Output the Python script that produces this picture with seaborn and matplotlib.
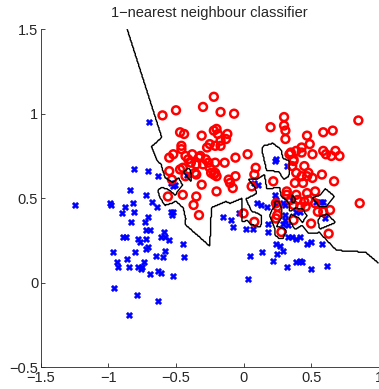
import numpy as np
import pandas as pd
import seaborn as sns
from matplotlib import pyplot as plt

# Clase 1 (circulos rojos)
x_rojo = [-0.22, -0.30, -0.17, -0.07, -0.50, -0.60, 0.30, 0.30, 0.20, 0.31,
          0.85, 0.59, 0.66, 0.47, 0.31, -0.47, -0.44, -0.31, -0.20, -0.22,
          -0.19, -0.12, -0.13, -0.17, -0.25, -0.21, -0.27, -0.17, -0.46, -0.46,
          0.49, 0.43, 0.39, 0.35, 0.68, 0.59, 0.61, 0.71, 0.65, 0.51,
          0.43, 0.34, 0.37, 0.03, -0.06, -0.38, -0.52, -0.55, -0.43, -0.41,
          -0.39, -0.32, -0.33, -0.35, -0.28, -0.26, -0.21, -0.14, -0.30, -0.25,
          0.37, 0.36, 0.39, 0.45, 0.48, -0.55, -0.47, -0.45, -0.43, -0.36,
          -0.35, -0.24, -0.22, -0.21, -0.20, -0.06, -0.11, -0.10, -0.08, 0.09,
          0.08, 0.22, 0.58, 0.51, 0.47, 0.43, 0.38, 0.44, -0.53, -0.31,
          -0.20, -0.45, -0.56, -0.35, -0.37, -0.33, 0.00, 0.08, 0.06, 0.32,
          0.32, 0.39, 0.35, 0.47, 0.53, 0.67, 0.40, 0.45, 0.48, 0.46,
          0.42, 0.37, 0.53, 0.55, 0.64, 0.59, 0.24, 0.25, 0.25, 0.24,
          0.37, 0.50, 0.28, 0.63, 0.86]
y_rojo = [1.10, 1.04, 1.01, 1.00, 1.02, 0.99, 0.98, 0.93, 0.92, 0.90,
          0.96, 0.89, 0.90, 0.87, 0.85, 0.89, 0.88, 0.87, 0.91, 0.90,
          0.88, 0.88, 0.85, 0.84, 0.82, 0.81, 0.80, 0.81, 0.81, 0.79,
          0.82, 0.80, 0.78, 0.77, 0.78, 0.78, 0.76, 0.75, 0.75, 0.76,
          0.77, 0.76, 0.73, 0.76, 0.74, 0.76, 0.76, 0.74, 0.75, 0.73,
          0.71, 0.75, 0.74, 0.70, 0.73, 0.71, 0.71, 0.71, 0.70, 0.68,
          0.72, 0.69, 0.65, 0.69, 0.65, 0.66, 0.67, 0.68, 0.63, 0.65,
          0.64, 0.65, 0.64, 0.65, 0.63, 0.63, 0.61, 0.59, 0.56, 0.68,
          0.64, 0.60, 0.64, 0.62, 0.63, 0.63, 0.59, 0.59, 0.61, 0.58,
          0.54, 0.52, 0.51, 0.51, 0.46, 0.40, 0.41, 0.36, 0.57, 0.54,
          0.52, 0.52, 0.49, 0.53, 0.54, 0.60, 0.49, 0.48, 0.49, 0.45,
          0.45, 0.46, 0.47, 0.42, 0.43, 0.42, 0.47, 0.45, 0.40, 0.38,
          0.37, 0.35, 0.30, 0.29, 0.47]

# Clase 0 (cruces azules)
x_azul = [-0.70, -1.25, -0.81, -0.71, -0.63, -0.84, -0.99, -0.98, -0.88, -0.82,
          -0.72, -0.68, -0.64, -0.90, -0.81, -0.83, -0.71, -0.73, -0.72, -0.69,
          -0.59, -0.61, -0.58, -0.55, -0.89, -0.87, -0.78, -0.77, -0.72, -0.71,
          -0.72, -0.97, -0.80, -0.65, -0.60, -0.86, -0.94, -0.93, -0.85, -0.78,
          -0.75, -0.74, -0.76, -0.63, -0.61, -0.69, -0.96, -0.79, -0.63, -0.85,
          -0.58, -0.52, -0.45, -0.44, -0.54, -0.51, -0.52, -0.42, -0.54, -0.52,
          -0.53,
          0.23, 0.24, 0.32, 0.08, 0.11, 0.23, 0.10, 0.13, 0.17, 0.23,
          0.36, 0.29, 0.31, 0.39, 0.42, 0.54, 0.57, 0.59, 0.60, -0.15,
          -0.09, -0.08, -0.03, 0.02, 0.07, 0.31, 0.31, 0.29, 0.33, 0.18,
          0.18, 0.33, 0.36, 0.39, 0.42, 0.24, 0.27, 0.29, 0.25, 0.14,
          0.05, 0.22, 0.32, 0.39, 0.42, 0.43, 0.50, 0.62, 0.03, 0.47,
          0.50, 0.58, 0.24]
y_azul = [0.95, 0.46, 0.67, 0.66, 0.63, 0.55, 0.47, 0.46, 0.45, 0.47,
          0.52, 0.48, 0.45, 0.41, 0.42, 0.36, 0.39, 0.36, 0.31, 0.31,
          0.30, 0.27, 0.27, 0.25, 0.27, 0.27, 0.26, 0.24, 0.26, 0.21,
          0.20, 0.18, 0.18, 0.16, 0.15, 0.14, 0.12, 0.09, 0.09, 0.09,
          0.09, 0.12, 0.08, 0.07, 0.06, 0.05, -0.03, -0.07, -0.11, -0.19,
          0.19, 0.04, 0.23, 0.15, 0.59, 0.58, 0.57, 0.64, 0.42, 0.42,
          0.40,
          0.72, 0.73, 0.69, 0.59, 0.58, 0.52, 0.47, 0.46, 0.45, 0.47,
          0.49, 0.47, 0.46, 0.42, 0.42, 0.48, 0.48, 0.48, 0.38, 0.39,
          0.37, 0.33, 0.41, 0.32, 0.32, 0.40, 0.37, 0.35, 0.34, 0.35,
          0.30, 0.27, 0.27, 0.26, 0.27, 0.23, 0.22, 0.19, 0.17, 0.18,
          0.16, 0.13, 0.09, 0.12, 0.13, 0.12, 0.08, 0.10, 0.02, 0.23,
          0.24, 0.23, 0.49]

titulo = '1\u2212nearest neighbour classifier'
ticks_x = [-1.5, -1, -0.5, 0, 0.5, 1]
ticks_y = [-0.5, 0, 0.5, 1, 1.5]

df = pd.DataFrame({
    'x': x_rojo + x_azul,
    'y': y_rojo + y_azul,
    'clase': [1] * len(x_rojo) + [0] * len(x_azul),
})

sns.set_style('ticks')
plt.rcParams['font.family'] = ['Liberation Sans', 'DejaVu Sans']
plt.rcParams['axes.unicode_minus'] = True
plt.rcParams['xtick.direction'] = 'in'
plt.rcParams['ytick.direction'] = 'in'

fig = plt.figure(figsize=(3.79, 3.89), dpi=100)
ax = fig.add_axes([0.108, 0.056, 0.891, 0.869])

# Frontera del clasificador 1-NN evaluada en una rejilla fina
gx, gy = np.meshgrid(np.linspace(-1.5, 1.0, 400), np.linspace(-0.5, 1.5, 320))
P = df[['x', 'y']].to_numpy()
etiquetas = df['clase'].to_numpy()
Z = np.zeros(gx.shape)
for i in range(gx.shape[0]):
    d = (gx[i][:, None] - P[:, 0]) ** 2 + (gy[i][:, None] - P[:, 1]) ** 2
    Z[i] = etiquetas[np.argmin(d, axis=1)]
ax.contour(gx, gy, Z, levels=[0.5], colors='k', linewidths=1.0)

rojo = df[df['clase'] == 1]
azul = df[df['clase'] == 0]
sns.scatterplot(data=azul, x='x', y='y', ax=ax, marker='X', s=22,
                color='blue', edgecolor='blue', linewidth=0.3, legend=False)
sns.scatterplot(data=rojo, x='x', y='y', ax=ax, marker='o', s=32,
                facecolor='none', edgecolor='red', linewidth=1.8, legend=False)

ax.set_xlim(-1.5, 1)
ax.set_ylim(-0.5, 1.5)
ax.set_xticks(ticks_x)
ax.set_yticks(ticks_y)
ax.set_xticklabels(['\u22121.5', '\u22121', '\u22120.5', '0', '0.5', '1'])
ax.set_yticklabels(['\u22120.5', '0', '0.5', '1', '1.5'])
ax.tick_params(labelsize=10.5, length=3, width=0.6, pad=2)
ax.tick_params(axis='x', pad=3)
ax.set_xlabel('')
ax.set_ylabel('')
ax.set_title(titulo, fontsize=10.5, pad=9)
sns.despine(ax=ax)
for s in ['left', 'bottom']:
    ax.spines[s].set_linewidth(0.6)

fig.savefig('out.png', dpi=100)
